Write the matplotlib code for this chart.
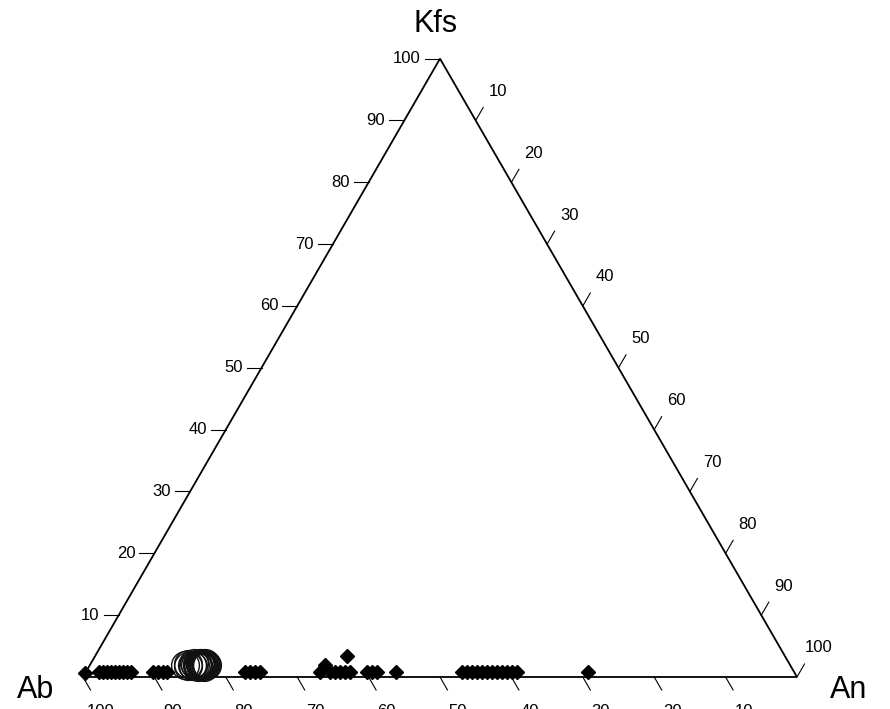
import numpy as np
import matplotlib
matplotlib.use("Agg")
import matplotlib.pyplot as plt

plt.rcParams['font.family'] = ['Liberation Sans', 'DejaVu Sans']

# ---- data (percent) ----
# diamonds: An and Kfs (Ab = 100 - An - Kfs)
dia_an = [0.0, 1.8, 2.4, 3.0, 3.5, 4.1, 4.6, 5.2, 5.8, 6.3,
          9.4, 10.1, 10.8, 11.4,
          22.3, 23.0, 23.7, 24.4,
          32.8, 32.9, 34.2, 34.9, 35.6, 36.3, 37.0, 35.3,
          39.4, 40.1, 40.8, 43.4,
          52.7, 53.4, 54.1, 54.8, 55.5, 56.2, 56.9, 57.6, 58.3, 59.0, 59.7, 60.4,
          70.3]
dia_kfs = [0.6, 0.8, 0.8, 0.8, 0.8, 0.8, 0.8, 0.8, 0.8, 0.8,
           0.8, 0.8, 0.8, 0.8,
           0.8, 0.8, 0.8, 0.8,
           0.8, 1.9, 0.8, 0.8, 0.8, 0.8, 0.8, 3.4,
           0.8, 0.8, 0.8, 0.8,
           0.8, 0.8, 0.8, 0.8, 0.8, 0.8, 0.8, 0.8, 0.8, 0.8, 0.8, 0.8,
           0.8]
# circles
cir_an = [13.4, 13.7, 13.9, 14.2, 14.4, 14.5, 14.7, 14.9, 15.0, 15.1,
          15.2, 15.3, 15.4, 15.5, 15.6, 15.7, 15.8, 15.9, 16.0, 16.1,
          16.2, 16.3, 16.4, 15.35, 15.65, 15.95, 15.25, 15.55, 15.85, 16.15]
cir_kfs = [1.9, 2.1, 1.7, 2.0, 2.2, 1.8, 2.0, 2.1, 1.9, 2.0,
           1.8, 2.1, 1.9, 2.0, 1.8, 2.0, 1.9, 1.7, 2.3, 1.6,
           2.0, 1.9, 2.0, 2.2, 1.7, 2.1, 1.6, 2.3, 1.8, 2.1]

ticks = [10, 20, 30, 40, 50, 60, 70, 80, 90, 100]
labels = ['Kfs', 'Ab', 'An']

H = np.sqrt(3) / 2


def to_xy(an, kfs):
    an = np.asarray(an) / 100.0
    kfs = np.asarray(kfs) / 100.0
    return an + kfs / 2, kfs * H


W, Hpx = 890, 709
fig = plt.figure(figsize=(W / 100, Hpx / 100), dpi=100)
left_px, right_px, base_px = 83, 797, 677
side = right_px - left_px
ax = fig.add_axes([left_px / W, (Hpx - base_px) / Hpx, side / W, side * H / Hpx])
ax.set_xlim(0, 1)
ax.set_ylim(0, H)
ax.set_aspect('equal', adjustable='box')
ax.axis('off')

# triangle
ax.plot([0, 1, 0.5, 0], [0, 0, H, 0], color='black', lw=1.3, clip_on=False,
        solid_joinstyle='miter')

tl = 15.0 / side      # tick length in data units
fs = 12
# left axis (Kfs): horizontal ticks to the left
for t in ticks:
    x, y = to_xy(0, t)
    ax.plot([x - tl, x], [y, y], color='black', lw=0.8, clip_on=False)
    ax.text(x - tl - 4.0 / side, y, str(t), ha='right', va='center',
            fontsize=fs, clip_on=False)

# right axis (An): ticks up-right
d_up = np.array([0.5, H])
for t in ticks:
    x, y = to_xy(t, 100 - t)
    ax.plot([x, x + tl * d_up[0]], [y, y + tl * d_up[1]], color='black', lw=0.8,
            clip_on=False)
    lx, ly = x + 22.0 / side, y + 29.0 / side
    ax.text(lx, ly, str(t), ha='center', va='center', fontsize=fs, clip_on=False)

# bottom axis (Ab): ticks down-right
for t in ticks:
    x, y = to_xy(100 - t, 0)
    ax.plot([x, x + tl * 0.5], [y, y - tl * H], color='black', lw=0.8,
            clip_on=False)
    ax.text(x + 18.0 / side, y - 35.0 / side, str(t), ha='center', va='center',
            fontsize=fs, clip_on=False)

# vertex labels
ax.text(0.5 - 4.0 / side, H + 35.0 / side, labels[0], ha='center', va='center',
        fontsize=22, clip_on=False)
ax.text(-47.0 / side, -13.0 / side, labels[1], ha='center', va='center',
        fontsize=22, clip_on=False)
ax.text(1 + 52.0 / side, -13.0 / side, labels[2], ha='center', va='center',
        fontsize=22, clip_on=False)

# data
cx, cy = to_xy(cir_an, cir_kfs)
ax.plot(cx, cy, 'o', ms=20, mfc='none', mec='#111111', mew=1.0, ls='none',
        clip_on=False)
dx, dy = to_xy(dia_an, dia_kfs)
ax.plot(dx, dy, 'D', ms=7.5, color='black', ls='none', clip_on=False)

fig.savefig('out.png', dpi=100)
